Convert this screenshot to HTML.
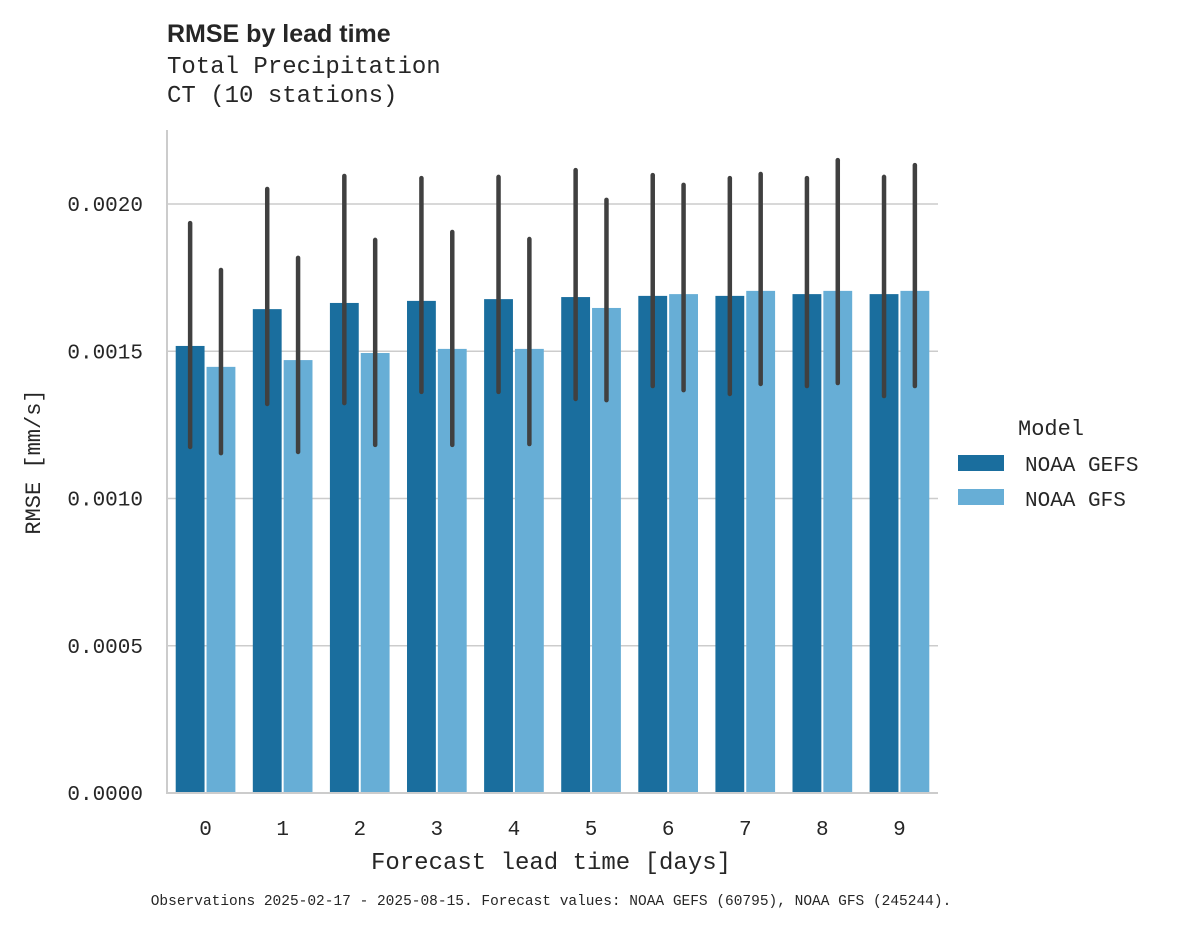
<!DOCTYPE html>
<html><head><meta charset="utf-8"><style>
body{margin:0;background:#fff}
svg text{font-family:"Liberation Mono",monospace;fill:#262626}
</style></head><body>
<svg id="c" width="1178" height="928" xmlns="http://www.w3.org/2000/svg">
<text x="167" y="42" style="font-family:'Liberation Sans',sans-serif;font-weight:bold;font-size:25px">RMSE by lead time</text>
<text x="167" y="73" font-size="24">Total Precipitation</text>
<text x="167" y="102" font-size="24">CT (10 stations)</text>
<g id="grid"></g><g id="bars"></g><g id="err"></g><g id="axes"></g>
<text x="551" y="869" text-anchor="middle" font-size="24">Forecast lead time [days]</text>
<text transform="translate(40,462) rotate(-90)" text-anchor="middle" font-size="22">RMSE [mm/s]</text>
<g>
<text x="1018" y="435" font-size="22">Model</text>
<rect x="958" y="455" width="46" height="16" fill="#1a6e9e"/>
<text x="1025" y="471" font-size="21">NOAA GEFS</text>
<rect x="958" y="489" width="46" height="16" fill="#67aed6"/>
<text x="1025" y="506" font-size="21">NOAA GFS</text>
</g>
<text x="551" y="905" text-anchor="middle" font-size="14.5">Observations 2025-02-17 - 2025-08-15. Forecast values: NOAA GEFS (60795), NOAA GFS (245244).</text>
</svg>
<script>
const categories=["0","1","2","3","4","5","6","7","8","9"];
const gefs=[0.001518,0.001643,0.001664,0.001671,0.001677,0.001684,0.001688,0.001688,0.001694,0.001694];
const gfs=[0.001447,0.00147,0.001494,0.001508,0.001508,0.001647,0.001694,0.001705,0.001705,0.001705];
const gefsHi=[0.001935,0.002051,0.002095,0.002088,0.002092,0.002115,0.002098,0.002088,0.002088,0.002092];
const gefsLo=[0.001175,0.001321,0.001324,0.001362,0.001362,0.001338,0.001382,0.001355,0.001382,0.001348];
const gfsHi=[0.001776,0.001817,0.001878,0.001905,0.001881,0.002014,0.002065,0.002102,0.002149,0.002132];
const gfsLo=[0.001154,0.001158,0.001182,0.001182,0.001185,0.001334,0.001368,0.001389,0.001392,0.001382];
const yTicks=[0,0.0005,0.001,0.0015,0.002];
const yTickLabels=["0.0000","0.0005","0.0010","0.0015","0.0020"];
const NS="http://www.w3.org/2000/svg";
const x0=167,x1=938,yb=793,yt=204;
const y=v=>yb-(v/0.002)*(yb-yt);
const bw=(x1-x0)/categories.length;
const xc=i=>x0+bw*(i+0.5);
function mk(tag,attrs,parent){const e=document.createElementNS(NS,tag);for(const k in attrs)e.setAttribute(k,attrs[k]);document.getElementById(parent).appendChild(e);return e;}
yTicks.forEach((t,i)=>{
  if(t>0){const g=mk('line',{x1:x0,x2:x1,y1:y(t),y2:y(t),stroke:'#cccccc','stroke-width':1.5},'grid');
  
  }
  const tx=mk('text',{x:143,y:y(t)+7,'text-anchor':'end','font-size':21},'axes');tx.textContent=yTickLabels[i];
  
  
});
const w=bw*0.8/2;
categories.forEach((c,i)=>{
  [[gefs,'#1a6e9e',-1,gefsHi,gefsLo,'gefs'],[gfs,'#67aed6',0,gfsHi,gfsLo,'gfs']].forEach(([s,col,off,hi,lo,nm])=>{
    const bx=xc(i)+off*w;
    const r=mk('rect',{x:bx+1,y:y(s[i]),width:w-2,height:yb-y(s[i]),fill:col},'bars');
    
    
    const l=mk('line',{x1:bx+w/2,x2:bx+w/2,y1:y(hi[i]),y2:y(lo[i]),stroke:'#404040','stroke-width':4.5,'stroke-linecap':'round'},'err');
    
    
  });
  const tx=mk('text',{x:xc(i),y:835,'text-anchor':'middle','font-size':21},'axes');tx.textContent=c;
  
  
});
const ys=mk('line',{x1:x0,x2:x0,y1:130,y2:yb+1,stroke:'#cccccc','stroke-width':2},'axes');


const xs=mk('line',{x1:x0-1,x2:x1,y1:yb,y2:yb,stroke:'#cccccc','stroke-width':2},'axes');


</script>
</body></html>
